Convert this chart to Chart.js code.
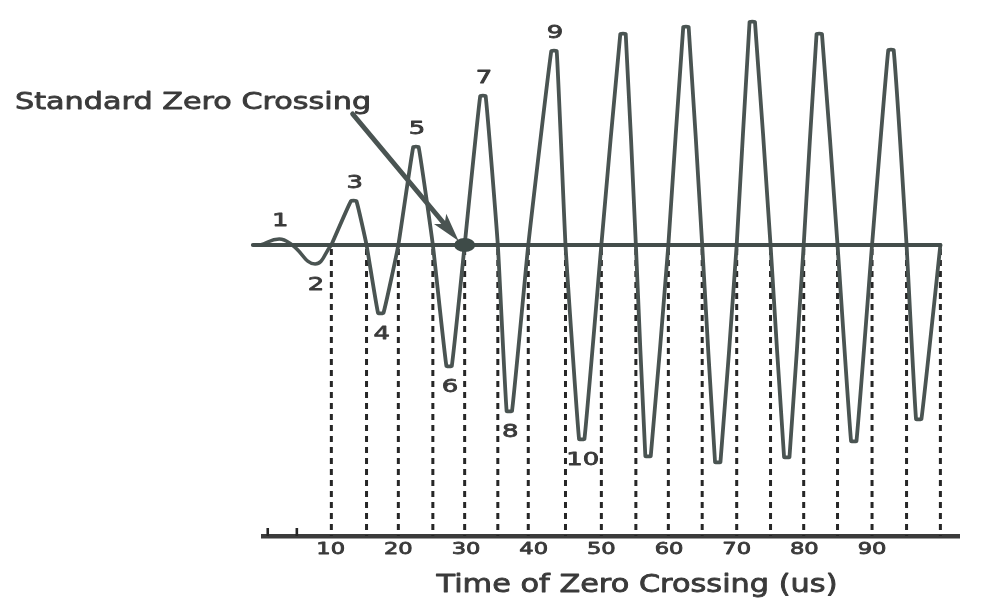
<!DOCTYPE html>
<html lang="en">
<head>
    <meta charset="UTF-8">
    <title>Time of Zero Crossing</title>
    <script src="https://cdn.jsdelivr.net/npm/chart.js"></script>
    <style>
        body { margin: 0; background: #fff; }
    </style>
</head>
<body>
    <canvas id="wave" width="986" height="610"></canvas>

    <script>
        // times in us, amplitude in arbitrary units (0 = baseline)
        const onsetTimes = [-0.4, 2.4, 4.3, 7.7, 10.1];
        const onsetValues = [0, 0.3, 0, -0.95, 0];
        const crossingTimes = [10.1, 15.3, 20.0, 25.1, 29.8, 34.7, 39.2, 44.7, 50.0, 55.1, 59.9, 64.9, 70.0, 75.0, 79.9, 84.9, 90.0, 95.1, 100.1];
        const extremaTimes = [13.4, 17.4, 22.6, 27.5, 32.5, 36.4, 43.0, 47.1, 53.2, 56.9, 62.5, 67.2, 72.3, 77.4, 82.2, 87.3, 92.8, 96.9];
        const extremaValues = [2.2, -3.4, 4.9, -6.05, 7.45, -8.3, 9.7, -9.7, 10.55, -10.55, 10.9, -10.85, 11.15, -10.6, 10.55, -9.8, 9.75, -8.7];
        const baselineTimes = [-1.5, 100.1];
        const minorTicks = [0.7, 5.0];
        const tickValues = [10, 20, 30, 40, 50, 60, 70, 80, 90];
        const cycleLabels = ['1', '2', '3', '4', '5', '6', '7', '8', '9', '10'];
        const standardCrossing = 29.8;

        const ink = '#4a5452';
        const textInk = '#3a3a3a';
        const tipHalf = 0.4; // half width of the flattened tip of each swing, in us

        const onsetPoints = onsetTimes.map((t, i) => ({ x: t, y: onsetValues[i] }));
        const wavePoints = [];
        crossingTimes.forEach((t, i) => {
            wavePoints.push({ x: t, y: 0 });
            if (i < extremaTimes.length) {
                wavePoints.push({ x: extremaTimes[i] - tipHalf, y: extremaValues[i] });
                wavePoints.push({ x: extremaTimes[i] + tipHalf, y: extremaValues[i] });
            }
        });
        const baselinePoints = baselineTimes.map(t => ({ x: t, y: 0 }));

        // numbered cycles: the two onset extrema, then the first eight of the main wave
        const labelPoints = [
            { x: onsetTimes[1], y: onsetValues[1] },
            { x: onsetTimes[3], y: onsetValues[3] }
        ].concat(extremaTimes.slice(0, 8).map((t, i) => ({ x: t, y: extremaValues[i] })));

        function wideText(ctx, text, x, y, size, sx, align) {
            ctx.save();
            ctx.font = size + 'px "DejaVu Sans"';
            ctx.fillStyle = textInk;
            ctx.strokeStyle = textInk;
            ctx.lineWidth = 0.8;
            ctx.lineJoin = 'round';
            ctx.textAlign = align;
            ctx.textBaseline = 'alphabetic';
            ctx.translate(x, y);
            ctx.scale(sx, 1);
            ctx.fillText(text, 0, 0);
            ctx.strokeText(text, 0, 0);
            ctx.restore();
        }

        const overlay = {
            id: 'overlay',
            beforeDatasetsDraw(chart) {
                const ctx = chart.ctx;
                const xs = chart.scales.x, ys = chart.scales.y;
                const y0 = ys.getPixelForValue(0);
                const yb = chart.chartArea.bottom;
                ctx.save();
                ctx.strokeStyle = '#262626';
                ctx.lineWidth = 3;
                ctx.setLineDash([6, 5]);
                crossingTimes.forEach(t => {
                    const px = xs.getPixelForValue(t);
                    ctx.beginPath();
                    ctx.moveTo(px, y0 + 4);
                    ctx.lineTo(px, yb);
                    ctx.stroke();
                });
                ctx.setLineDash([]);
                ctx.lineWidth = 2.6;
                minorTicks.forEach(t => {
                    const px = xs.getPixelForValue(t);
                    ctx.beginPath();
                    ctx.moveTo(px, yb - 8);
                    ctx.lineTo(px, yb);
                    ctx.stroke();
                });
                ctx.restore();
            },
            afterDatasetsDraw(chart) {
                const ctx = chart.ctx;
                const xs = chart.scales.x, ys = chart.scales.y;

                // standard zero crossing marker and arrow
                const dx = xs.getPixelForValue(standardCrossing);
                const dy = ys.getPixelForValue(0);
                ctx.save();
                ctx.fillStyle = '#3e4b48';
                ctx.beginPath();
                ctx.ellipse(dx, dy, 10.5, 7, 0, 0, Math.PI * 2);
                ctx.fill();

                const tail = { x: dx - 112, y: dy - 131 };
                const tip = { x: dx - 6, y: dy - 4 };
                const ang = Math.atan2(tip.y - tail.y, tip.x - tail.x);
                ctx.strokeStyle = ink;
                ctx.fillStyle = ink;
                ctx.lineWidth = 5;
                ctx.lineCap = 'round';
                ctx.beginPath();
                ctx.moveTo(tail.x, tail.y);
                ctx.lineTo(tip.x - 14 * Math.cos(ang), tip.y - 14 * Math.sin(ang));
                ctx.stroke();
                ctx.beginPath();
                ctx.moveTo(tip.x, tip.y);
                ctx.lineTo(tip.x - 30 * Math.cos(ang - 0.27), tip.y - 30 * Math.sin(ang - 0.27));
                ctx.lineTo(tip.x - 22 * Math.cos(ang), tip.y - 22 * Math.sin(ang));
                ctx.lineTo(tip.x - 30 * Math.cos(ang + 0.27), tip.y - 30 * Math.sin(ang + 0.27));
                ctx.closePath();
                ctx.fill();
                ctx.restore();

                // cycle numbers
                labelPoints.forEach((p, i) => {
                    const px = xs.getPixelForValue(p.x);
                    const py = ys.getPixelForValue(p.y);
                    const cy = p.y > 0 ? py - 20 : py + 19;
                    wideText(ctx, cycleLabels[i], px + 1, cy + 6.8, 18.5, 1.4, 'center');
                });

                // axis tick labels and title
                tickValues.forEach(v => {
                    wideText(ctx, String(v), xs.getPixelForValue(v), 553.5, 16.5, 1.37, 'center');
                });
                wideText(ctx, 'Time of Zero Crossing (us)', 637, 592, 24, 1.265, 'center');
                wideText(ctx, 'Standard Zero Crossing', 15, 109, 23, 1.315, 'left');
            }
        };

        new Chart(document.getElementById('wave'), {
            type: 'line',
            data: {
                datasets: [
                    {
                        label: 'baseline',
                        data: baselinePoints,
                        borderColor: '#434d4b',
                        borderWidth: 4,
                        pointRadius: 0,
                        clip: false
                    },
                    {
                        label: 'onset',
                        data: onsetPoints,
                        borderColor: ink,
                        borderWidth: 3.5,
                        pointRadius: 0,
                        tension: 0.45,
                        clip: false
                    },
                    {
                        label: 'signal',
                        data: wavePoints,
                        borderColor: ink,
                        borderWidth: 3.8,
                        pointRadius: 0,
                        tension: 0.12,
                        clip: false
                    }
                ]
            },
            options: {
                responsive: false,
                animation: false,
                layout: { padding: { left: 263, right: 27, top: 10, bottom: 74 } },
                elements: { line: { capBezierPoints: false, borderJoinStyle: 'round', borderCapStyle: 'round' } },
                plugins: { legend: { display: false }, tooltip: { enabled: false } },
                scales: {
                    x: {
                        type: 'linear',
                        min: 0,
                        max: 102.85,
                        ticks: { display: false },
                        grid: { display: false, drawTicks: false },
                        border: { display: true, color: '#3b3b3b', width: 4.5 }
                    },
                    y: {
                        display: false,
                        min: -14.55,
                        max: 11.75
                    }
                }
            },
            plugins: [overlay]
        });
    </script>
</body>
</html>
